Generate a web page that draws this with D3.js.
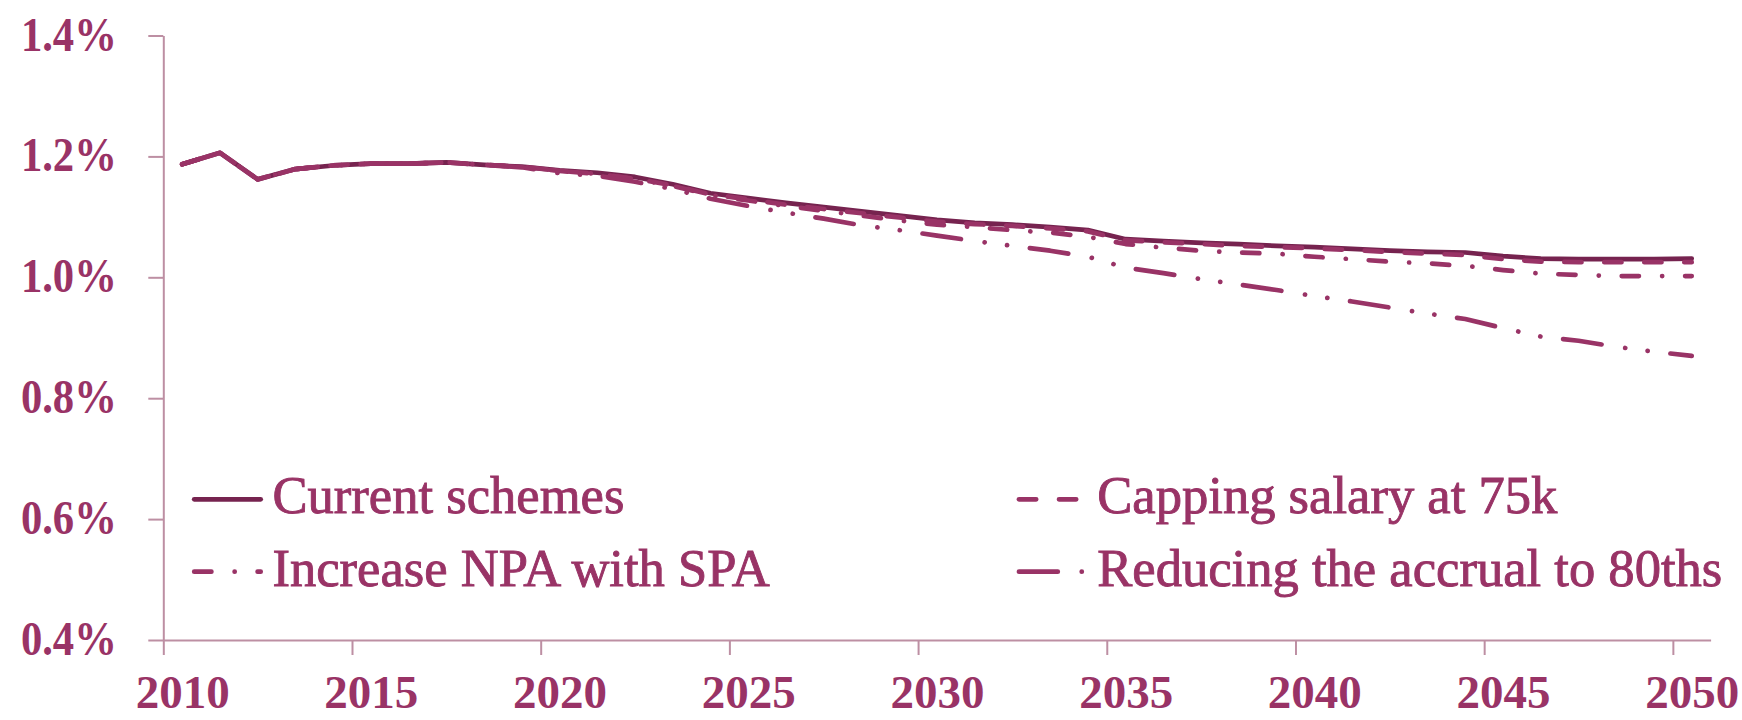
<!DOCTYPE html>
<html>
<head>
<meta charset="utf-8">
<script src="https://cdn.jsdelivr.net/npm/d3@7"></script>
<style>
  html, body { margin: 0; padding: 0; background: #ffffff; }
  svg { display: block; }
  text { font-family: "Liberation Serif", "Times New Roman", serif; }
</style>
</head>
<body>
<svg id="chart" width="1742" height="720"></svg>
<script>
// Projected cost as a share of pay, 2010-2050, under each policy option
const years = [2010, 2011, 2012, 2013, 2014, 2015, 2016, 2017, 2018, 2019,
               2020, 2021, 2022, 2023, 2024, 2025, 2026, 2027, 2028, 2029,
               2030, 2031, 2032, 2033, 2034, 2035, 2036, 2037, 2038, 2039,
               2040, 2041, 2042, 2043, 2044, 2045, 2046, 2047, 2048, 2049, 2050];

const currentSchemes = [1.187, 1.206, 1.162, 1.179, 1.185, 1.188, 1.188, 1.190, 1.186, 1.183,
                        1.177, 1.173, 1.166, 1.154, 1.139, 1.131, 1.123, 1.116, 1.109, 1.102,
                        1.095, 1.090, 1.087, 1.083, 1.078, 1.063, 1.060, 1.057, 1.055, 1.052,
                        1.050, 1.047, 1.044, 1.042, 1.041, 1.035, 1.031, 1.030, 1.030, 1.030, 1.031];

const cappingSalary = [1.187, 1.206, 1.162, 1.179, 1.185, 1.188, 1.188, 1.190, 1.186, 1.183,
                       1.176, 1.171, 1.163, 1.152, 1.137, 1.129, 1.120, 1.113, 1.106, 1.099,
                       1.092, 1.088, 1.085, 1.081, 1.076, 1.061, 1.058, 1.055, 1.052, 1.050,
                       1.048, 1.045, 1.042, 1.039, 1.037, 1.030, 1.026, 1.025, 1.025, 1.025, 1.025];

const increaseNPA = [1.187, 1.206, 1.162, 1.179, 1.185, 1.188, 1.188, 1.190, 1.186, 1.183,
                     1.176, 1.171, 1.163, 1.151, 1.136, 1.127, 1.118, 1.110, 1.102, 1.094,
                     1.087, 1.083, 1.078, 1.074, 1.067, 1.055, 1.049, 1.044, 1.041, 1.039,
                     1.034, 1.030, 1.026, 1.023, 1.019, 1.012, 1.006, 1.004, 1.002, 1.002, 1.002];

const reducingAccrual = [1.187, 1.206, 1.162, 1.179, 1.185, 1.188, 1.188, 1.190, 1.186, 1.182,
                         1.172, 1.168, 1.158, 1.146, 1.130, 1.118, 1.107, 1.097, 1.086, 1.078,
                         1.069, 1.060, 1.052, 1.044, 1.034, 1.016, 1.007, 0.997, 0.988, 0.979,
                         0.969, 0.960, 0.950, 0.940, 0.931, 0.916, 0.902, 0.895, 0.885, 0.877, 0.870];

const seriesNames = ["Current schemes", "Capping salary at 75k",
                     "Increase NPA with SPA", "Reducing the accrual to 80ths"];

const xTickYears = [2010, 2015, 2020, 2025, 2030, 2035, 2040, 2045, 2050];
const yTickValues = [0.4, 0.6, 0.8, 1.0, 1.2, 1.4];

// Styling
const plum = "#993366";
const darkPlum = "#76234F";
const axisColor = "#BD8FA3";
const lineWidth = 4.7;

const series = [
  { name: seriesNames[0], values: currentSchemes, color: darkPlum, dash: null },
  { name: seriesNames[1], values: cappingSalary, color: plum, dash: "17.2,22.8" },
  { name: seriesNames[2], values: increaseNPA, color: plum, dash: "17.2,23.2,0.1,22.9" },
  { name: seriesNames[3], values: reducingAccrual, color: plum, dash: "38.8,23.9,0.1,22.5,0.1,22.9" }
];

const svg = d3.select("#chart");

// Category axis: one slot per year, points sit mid-slot
const x = d3.scaleLinear().domain([2010, 2051]).range([163.3, 1710.6]);
const y = d3.scaleLinear().domain([0.4, 1.4]).range([640, 35.5]);
const half = x(2010.5) - x(2010);

// Y axis
const yAxis = svg.append("g")
  .attr("transform", `translate(${x(2010)},0)`)
  .call(d3.axisLeft(y).tickValues(yTickValues).tickSize(15).tickSizeOuter(0)
        .tickPadding(31.5).tickFormat(d => d.toFixed(1) + "%"));

// X axis
const xAxis = svg.append("g")
  .attr("transform", `translate(0,${y(0.4)})`)
  .call(d3.axisBottom(x).tickValues(xTickYears).tickSize(15).tickSizeOuter(0)
        .tickFormat(d => String(d)));

[yAxis, xAxis].forEach(g => {
  g.select(".domain").attr("stroke", axisColor).attr("stroke-width", 2);
  g.selectAll(".tick line").attr("stroke", axisColor).attr("stroke-width", 2);
  g.selectAll(".tick text")
    .attr("fill", plum)
    .style("font-family", "'Liberation Serif', 'Times New Roman', serif")
    .style("font-weight", "bold");
});

yAxis.selectAll(".tick text").style("font-size", "49px").attr("dy", "14.5px");
xAxis.selectAll(".tick text").style("font-size", "47px")
  .attr("x", half).attr("y", 68).attr("dy", 0);

// Narrow the y-axis numerals a little
yAxis.selectAll(".tick text").each(function () {
  const w = this.getComputedTextLength();
  this.setAttribute("textLength", (w * 0.87).toFixed(1));
  this.setAttribute("lengthAdjust", "spacingAndGlyphs");
});

// Series lines
const line = d3.line()
  .x((d, i) => x(years[i] + 0.5))
  .y(d => y(d));

svg.append("g").selectAll("path")
  .data(series)
  .join("path")
  .attr("d", s => line(s.values))
  .attr("fill", "none")
  .attr("stroke", s => s.color)
  .attr("stroke-width", lineWidth)
  .attr("stroke-linecap", "round")
  .attr("stroke-linejoin", "round")
  .attr("stroke-dasharray", s => s.dash);

// Legend, two columns by two rows
const legendSlots = [
  { col: 0, row: 0 }, { col: 1, row: 0 },
  { col: 0, row: 1 }, { col: 1, row: 1 }
];
const colX = [194.2, 1019];
const rowY = [499.3, 571.7];
const sampleLen = 66.5;
const textGap = 9.5;

const legend = svg.append("g");
series.forEach((s, i) => {
  const slot = legendSlots[i];
  const lx = colX[slot.col];
  const ly = rowY[slot.row];
  legend.append("line")
    .attr("x1", lx).attr("x2", lx + sampleLen)
    .attr("y1", ly).attr("y2", ly)
    .attr("stroke", s.color)
    .attr("stroke-width", lineWidth)
    .attr("stroke-linecap", "round")
    .attr("stroke-dasharray", s.dash);
  legend.append("text")
    .attr("x", lx + sampleLen + 2.25 + textGap)
    .attr("y", ly + 14)
    .attr("fill", plum)
    .attr("stroke", plum)
    .attr("stroke-width", 0.9)
    .style("font-size", "52.6px")
    .text(s.name);
});
</script>
</body>
</html>
